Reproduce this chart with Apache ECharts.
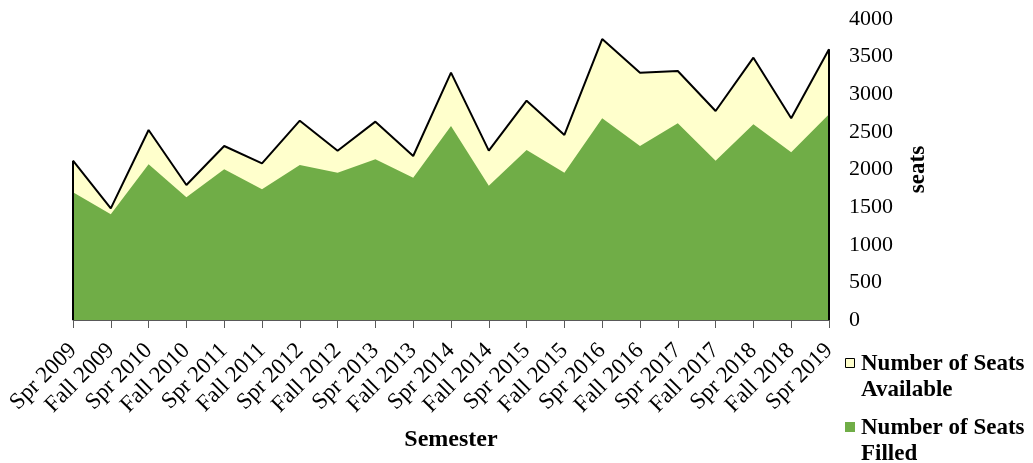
<!DOCTYPE html>
<html>
<head>
<meta charset="utf-8">
<script src="https://cdn.jsdelivr.net/npm/echarts@6/dist/echarts.min.js"></script>
<style>
  html, body { margin: 0; padding: 0; background: #fff; }
  #chart { width: 1033px; height: 463px; }
</style>
</head>
<body>
<div id="chart"></div>
<script>
// semesters
const semesters = [
  "Spr 2009", "Fall 2009", "Spr 2010", "Fall 2010", "Spr 2011", "Fall 2011",
  "Spr 2012", "Fall 2012", "Spr 2013", "Fall 2013", "Spr 2014", "Fall 2014",
  "Spr 2015", "Fall 2015", "Spr 2016", "Fall 2016", "Spr 2017", "Fall 2017",
  "Spr 2018", "Fall 2018", "Spr 2019"
];
// seats offered
const seatsAvailable = [
  2117, 1484, 2525, 1794, 2312, 2082, 2649, 2250, 2636, 2179, 3287,
  2250, 2915, 2459, 3734, 3287, 3309, 2778, 3486, 2681, 3597
];
// seats taken
const seatsFilled = [
  1697, 1405, 2069, 1630, 2003, 1737, 2060, 1958, 2136, 1891, 2578,
  1785, 2259, 1958, 2681, 2312, 2614, 2117, 2601, 2229, 2734
];
const yTicks = [0, 500, 1000, 1500, 2000, 2500, 3000, 3500, 4000];

const font = "'Liberation Serif', 'Times New Roman', serif";
const last = semesters.length - 1;

const chart = echarts.init(document.getElementById("chart"));

const option = {
  animation: false,
  textStyle: { fontFamily: font },
  grid: { left: 73, right: 204, top: 19, bottom: 143, containLabel: false },
  xAxis: {
    type: "category",
    data: semesters,
    boundaryGap: false,
    name: "Semester",
    nameLocation: "middle",
    nameGap: 108,
    nameTextStyle: { fontFamily: font, fontSize: 24, fontWeight: "bold", color: "#000" },
    axisLine: { lineStyle: { color: "#595959", width: 1 } },
    axisTick: { show: true, length: 8, alignWithLabel: true, lineStyle: { color: "#595959" } },
    axisLabel: {
      rotate: 45,
      interval: 0,
      margin: 27,
      fontFamily: font,
      fontSize: 23,
      color: "#000"
    },
    splitLine: { show: false }
  },
  yAxis: {
    type: "value",
    position: "right",
    min: yTicks[0],
    max: yTicks[yTicks.length - 1],
    interval: 500,
    name: "seats",
    nameLocation: "middle",
    nameRotate: 90,
    nameGap: 78,
    nameTextStyle: { fontFamily: font, fontSize: 23, fontWeight: "bold", color: "#000" },
    axisLine: { show: false },
    axisTick: { show: false },
    splitLine: { show: false },
    axisLabel: {
      margin: 20,
      align: "left",
      fontFamily: font,
      fontSize: 22,
      color: "#000",
      formatter: v => String(v)
    }
  },
  series: [
    {
      name: "Number of Seats Available",
      type: "line",
      data: seatsAvailable,
      symbol: "none",
      z: 2,
      lineStyle: { color: "#000", width: 2 },
      areaStyle: { color: "#FFFFCC", opacity: 1 },
      itemStyle: { color: "#FFFFCC" },
      markLine: {
        silent: true,
        symbol: "none",
        label: { show: false },
        lineStyle: { color: "#000", width: 2, type: "solid" },
        data: [
          [{ coord: [semesters[0], seatsAvailable[0]] }, { coord: [semesters[0], 0] }],
          [{ coord: [semesters[last], seatsAvailable[last]] }, { coord: [semesters[last], 0] }]
        ]
      }
    },
    {
      name: "Number of Seats Filled",
      type: "line",
      data: seatsFilled,
      symbol: "none",
      z: 3,
      lineStyle: { width: 0, color: "#70AD47" },
      areaStyle: { color: "#70AD47", opacity: 1 },
      itemStyle: { color: "#70AD47" }
    }
  ],
  graphic: [
    {
      type: "rect",
      left: 845,
      top: 358,
      shape: { width: 9, height: 9 },
      style: { fill: "#FFFFCC", stroke: "#000", lineWidth: 1 }
    },
    {
      type: "text",
      left: 861,
      top: 351,
      style: {
        text: "Number of Seats\nAvailable",
        font: "bold 23px " + font,
        lineHeight: 26,
        fill: "#000"
      }
    },
    {
      type: "rect",
      left: 845,
      top: 422,
      shape: { width: 10, height: 10 },
      style: { fill: "#70AD47" }
    },
    {
      type: "text",
      left: 861,
      top: 415,
      style: {
        text: "Number of Seats\nFilled",
        font: "bold 23px " + font,
        lineHeight: 26,
        fill: "#000"
      }
    }
  ]
};

chart.setOption(option);
</script>
</body>
</html>
